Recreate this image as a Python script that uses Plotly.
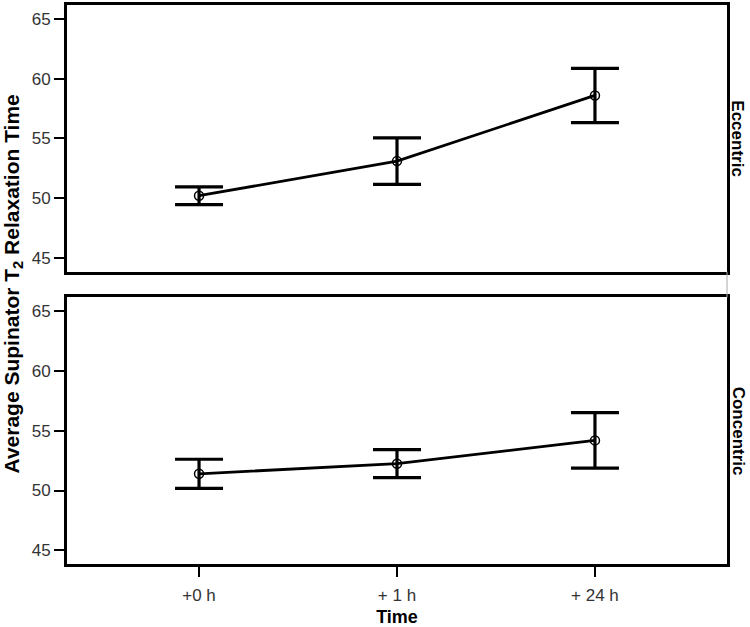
import plotly.graph_objects as go
from plotly.subplots import make_subplots

times = ["+0 h", "+ 1 h", "+ 24 h"]
ecc_mean = [50.2, 53.1, 58.6]
ecc_err = [0.75, 1.95, 2.27]
con_mean = [51.4, 52.25, 54.2]
con_err = [1.22, 1.17, 2.32]
panels = ["Eccentric", "Concentric"]
yticks = [45, 50, 55, 60, 65]

fig = make_subplots(rows=2, cols=1, shared_xaxes=True, vertical_spacing=0.0462)

for i, (m, e) in enumerate([(ecc_mean, ecc_err), (con_mean, con_err)]):
    fig.add_trace(go.Scatter(
        x=times, y=m, mode="lines+markers",
        line=dict(color="black", width=2.8),
        marker=dict(symbol="circle-open", size=9, color="black", line=dict(width=1.5)),
        error_y=dict(type="data", array=e, visible=True, color="black", thickness=3.2, width=24),
        showlegend=False,
    ), row=i + 1, col=1)

axis_font = dict(family="Liberation Sans, Arial", size=17, color="#333")
for r in (1, 2):
    fig.update_yaxes(range=[43.85, 66.17], tickvals=yticks, ticks="outside", ticklen=10, tickwidth=1.5,
                     tickcolor="black", showline=True, linewidth=3, linecolor="black", mirror=True,
                     showgrid=False, zeroline=False, tickfont=axis_font, row=r, col=1)
    fig.update_xaxes(type="category", range=[-0.667, 2.667], showline=True, linewidth=3,
                     linecolor="black", mirror=True, showgrid=False, zeroline=False,
                     tickfont=axis_font, row=r, col=1)
fig.update_xaxes(ticks="", showticklabels=False, row=1, col=1)
fig.update_xaxes(ticks="outside", ticklen=10, tickwidth=1.5, tickcolor="black", showticklabels=True,
                 ticklabelstandoff=4, row=2, col=1)
fig.update_layout(xaxis2=dict(title=dict(text="<b>Time</b>", font=dict(family="Liberation Sans, Arial", size=18, color="black"), standoff=6)))

fig.add_annotation(text="<b>Average Supinator T<sub>2</sub> Relaxation Time</b>", textangle=-90,
                   xref="paper", yref="paper", x=0, xshift=-55, y=0.5, xanchor="center", yanchor="middle",
                   showarrow=False, font=dict(family="Liberation Sans, Arial", size=21, color="black"))
for name, yc in zip(panels, [0.7615, 0.2385]):
    fig.add_annotation(text="<b>" + name + "</b>", textangle=90, xref="paper", yref="paper",
                       x=1.0, xshift=11, y=yc, xanchor="center", yanchor="middle", showarrow=False,
                       font=dict(family="Liberation Sans, Arial", size=17, color="black"))

fig.add_shape(type="line", xref="paper", yref="paper", x0=1.0, x1=1.0, y0=0.4769, y1=0.5231,
              line=dict(color="#aaa", width=1))

fig.update_layout(width=750, height=627, margin=dict(l=67, r=23, t=2, b=63),
                  plot_bgcolor="white", paper_bgcolor="white")
fig.write_html("out.html", config={"displayModeBar": False},
               post_script="document.body.style.margin='0';document.body.style.overflow='hidden';")
